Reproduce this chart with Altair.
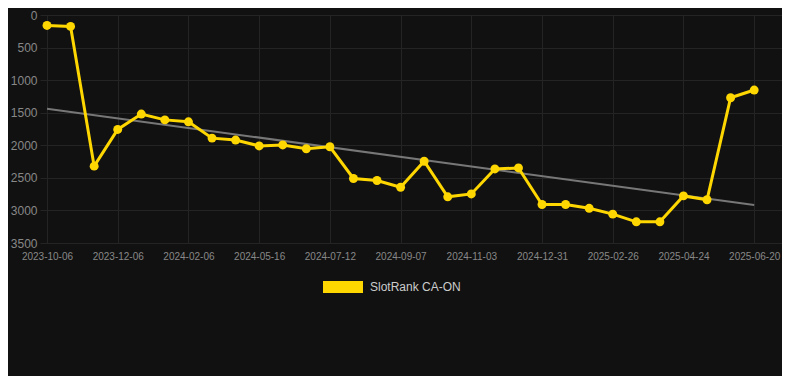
import altair as alt
import pandas as pd

dates = [
    "2023-10-06", "2023-10-26", "2023-11-15", "2023-12-06", "2023-12-26",
    "2024-01-16", "2024-02-06", "2024-03-10", "2024-04-12", "2024-05-16",
    "2024-06-04", "2024-06-23", "2024-07-12", "2024-07-31", "2024-08-19",
    "2024-09-07", "2024-09-26", "2024-10-15", "2024-11-03", "2024-11-22",
    "2024-12-12", "2024-12-31", "2025-01-19", "2025-02-07", "2025-02-26",
    "2025-03-17", "2025-04-05", "2025-04-24", "2025-05-13", "2025-06-01",
    "2025-06-20",
]
ranks = [
    160, 175, 2320, 1757, 1521, 1610, 1640, 1890, 1920, 2010,
    1995, 2053, 2023, 2510, 2540, 2644, 2245, 2791, 2747, 2363,
    2348, 2909, 2909, 2968, 3057, 3175, 3175, 2777, 2836, 1270,
    1152,
]
series_name = "SlotRank CA-ON"
y_ticks = [0, 500, 1000, 1500, 2000, 2500, 3000, 3500]

df = pd.DataFrame({
    "i": list(range(len(dates))),
    "date": dates,
    "rank": ranks,
    "series": [series_name] * len(dates),
})

label_expr = "[" + ",".join(f"'{d}'" for d in dates) + "][datum.value]"

x = alt.X(
    "i:Q",
    scale=alt.Scale(domain=[-0.297, 31.18], nice=False, zero=False),
    axis=alt.Axis(
        values=list(range(0, len(dates), 3)),
        labelExpr=label_expr,
        title=None,
        grid=True,
        ticks=False,
        domain=False,
        labelFontSize=10,
        labelColor="#888888",
        labelPadding=8,
        labelFlush=False,
    ),
)
y = alt.Y(
    "rank:Q",
    scale=alt.Scale(domain=[0, 3500], reverse=True, nice=False, zero=False),
    axis=alt.Axis(
        values=y_ticks,
        format="d",
        title=None,
        grid=True,
        ticks=False,
        domain=False,
        labelFontSize=12,
        labelColor="#888888",
        labelPadding=3,
    ),
)

base = alt.Chart(df)

trend = base.transform_regression("i", "rank").mark_line(
    color="#777777", strokeWidth=2
).encode(x=x, y=y)

line = base.mark_line(color="#FFD700", strokeWidth=3).encode(x=x, y=y)

points = base.mark_circle(size=80, opacity=1).encode(
    x=x,
    y=y,
    color=alt.Color(
        "series:N",
        scale=alt.Scale(range=["#FFD700"]),
        legend=alt.Legend(
            title=None,
            orient="none",
            legendX=283,
            legendY=252,
            symbolType="M-1,-0.3H1V0.3H-1Z",
            symbolSize=1600,
            symbolStrokeWidth=0,
            labelColor="#cccccc",
            labelFontSize=12,
            labelOffset=7,
        ),
    ),
)

chart = (
    alt.layer(trend, line, points)
    .properties(
        width=742,
        height=228,
        autosize=alt.AutoSizeParams(type="none"),
        padding={"left": 32, "top": 7, "right": 0, "bottom": 133},
        background="#111111",
    )
    .configure(font="Liberation Sans")
    .configure_view(stroke=None)
    .configure_axis(gridColor="#242424", gridWidth=1)
)

chart.save("out.html", embed_options={"renderer": "svg", "actions": False})
